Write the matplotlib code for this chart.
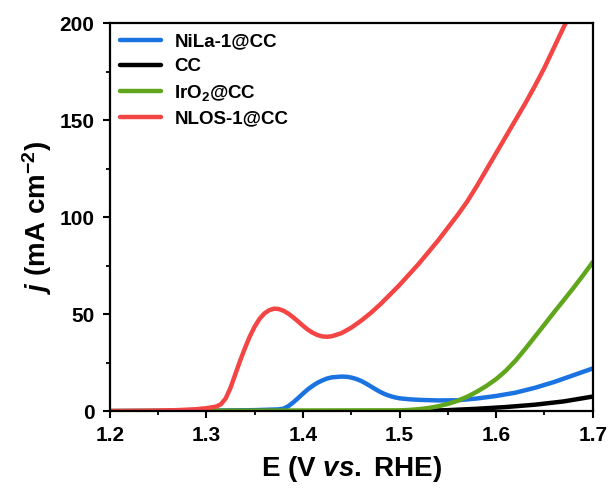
import matplotlib
matplotlib.use("Agg")
import matplotlib.pyplot as plt
from matplotlib.ticker import MultipleLocator

plt.rcParams['font.family'] = ['Liberation Sans', 'DejaVu Sans']
plt.rcParams['font.weight'] = 'bold'
plt.rcParams['mathtext.fontset'] = 'custom'
plt.rcParams['mathtext.rm'] = 'Liberation Sans:bold'
plt.rcParams['mathtext.it'] = 'Liberation Sans:italic:bold'
plt.rcParams['mathtext.bf'] = 'Liberation Sans:bold'

# ---- data ----
nila_x = [1.20, 1.30, 1.35, 1.375, 1.38, 1.385, 1.39, 1.395, 1.40, 1.405, 1.41, 1.415,
          1.42, 1.425, 1.43, 1.44, 1.445, 1.45, 1.455, 1.46, 1.465, 1.47, 1.475,
          1.48, 1.485, 1.49, 1.495, 1.50, 1.51, 1.52, 1.54, 1.56, 1.58, 1.60, 1.62,
          1.64, 1.66, 1.68, 1.70]
nila_y = [0.0, 0.2, 0.5, 0.9, 1.3, 2.6, 4.5, 6.7, 9.0, 11.2, 13.0, 14.6,
          15.8, 16.8, 17.4, 17.8, 17.7, 17.3, 16.6, 15.6, 14.3, 12.8, 11.3,
          9.9, 8.7, 7.8, 7.1, 6.6, 6.1, 5.8, 5.5, 5.6, 6.5, 7.8, 9.5,
          12.0, 15.0, 18.5, 22.0]

cc_x = [1.20, 1.50, 1.52, 1.55, 1.58, 1.61, 1.64, 1.67, 1.70]
cc_y = [0.0, 0.0, 0.1, 0.5, 1.2, 2.1, 3.3, 5.0, 7.5]

iro2_x = [1.20, 1.40, 1.50, 1.51, 1.52, 1.53, 1.54, 1.55, 1.56, 1.57, 1.58, 1.59,
          1.60, 1.61, 1.62, 1.63, 1.64, 1.65, 1.66, 1.67, 1.68, 1.69, 1.70]
iro2_y = [0.0, 0.3, 0.4, 0.6, 1.0, 1.6, 2.5, 3.7, 5.3, 7.4, 10.0, 13.0,
          16.5, 20.8, 26.0, 32.0, 38.3, 44.6, 51.0, 57.2, 63.5, 70.0, 76.8]

nlos_x = [1.20, 1.24, 1.27, 1.29, 1.30, 1.31, 1.315, 1.32, 1.325, 1.33, 1.335, 1.34,
          1.345, 1.35, 1.355, 1.36, 1.365, 1.37, 1.375, 1.38, 1.385, 1.39, 1.395,
          1.40, 1.405, 1.41, 1.415, 1.42, 1.425, 1.43, 1.44, 1.45, 1.46, 1.47,
          1.48, 1.49, 1.50, 1.51, 1.52, 1.53, 1.54, 1.55, 1.56, 1.57, 1.58, 1.59,
          1.60, 1.61, 1.62, 1.63, 1.64, 1.65, 1.66, 1.67, 1.673]
nlos_y = [0.0, 0.2, 0.5, 1.0, 1.5, 2.3, 3.5, 6.5, 12.0, 19.0, 26.0, 32.5,
          38.5, 43.5, 47.5, 50.3, 52.0, 52.8, 52.6, 51.7, 50.2, 48.3, 46.2,
          44.0, 42.0, 40.4, 39.2, 38.5, 38.3, 38.6, 40.2, 43.0, 46.5, 50.5,
          55.0, 60.0, 65.0, 70.5, 76.0, 82.0, 88.0, 94.5, 101.0, 108.0, 116.0, 124.5,
          133.0, 141.5, 150.0, 158.5, 167.5, 177.0, 187.5, 198.0, 201.0]

labels = ['NiLa-1@CC', 'CC', 'IrO$_{\\mathbf{2}}$@CC', 'NLOS-1@CC']
colors = ['#1a73e0', '#000000', '#5fa61c', '#f44545']

fig = plt.figure(figsize=(6.13, 4.90), dpi=100)
ax = fig.add_axes([0.179, 0.161, 0.788, 0.792])

series = [(nila_x, nila_y), (cc_x, cc_y), (iro2_x, iro2_y), (nlos_x, nlos_y)]
for (x, y), lab, c in zip(series, labels, colors):
    ax.plot(x, y, color=c, lw=3.2, label=lab, solid_capstyle='round',
            solid_joinstyle='round')

ax.set_xlim(1.2, 1.7)
ax.set_ylim(0, 200)
ax.xaxis.set_major_locator(MultipleLocator(0.1))
ax.xaxis.set_minor_locator(MultipleLocator(0.05))
ax.yaxis.set_major_locator(MultipleLocator(50))
ax.yaxis.set_minor_locator(MultipleLocator(25))
ax.set_xticks([1.2, 1.3, 1.4, 1.5, 1.6, 1.7])
ax.set_xticklabels(['1.2', '1.3', '1.4', '1.5', '1.6', '1.7'])

for s in ax.spines.values():
    s.set_linewidth(1.6)
ax.tick_params(which='major', direction='out', length=5, width=1.5, labelsize=15, pad=6)
ax.tick_params(which='minor', direction='out', length=3, width=1.3)
for t in ax.get_xticklabels() + ax.get_yticklabels():
    t.set_fontweight('bold')

ax.set_xlabel('E (V $vs.$ RHE)', fontsize=20, fontweight='bold', labelpad=6)
ax.set_ylabel('$j$ (mA cm$^{\\mathbf{-2}}$)', fontsize=20, fontweight='bold', labelpad=4)

leg = ax.legend(loc='upper left', frameon=False, prop={'weight': 'bold', 'size': 13.5},
                handlelength=2.2, handletextpad=0.7, labelspacing=0.4,
                borderaxespad=0.15, bbox_to_anchor=(0.0, 1.0))

fig.savefig('out.png', dpi=100, facecolor='white')
